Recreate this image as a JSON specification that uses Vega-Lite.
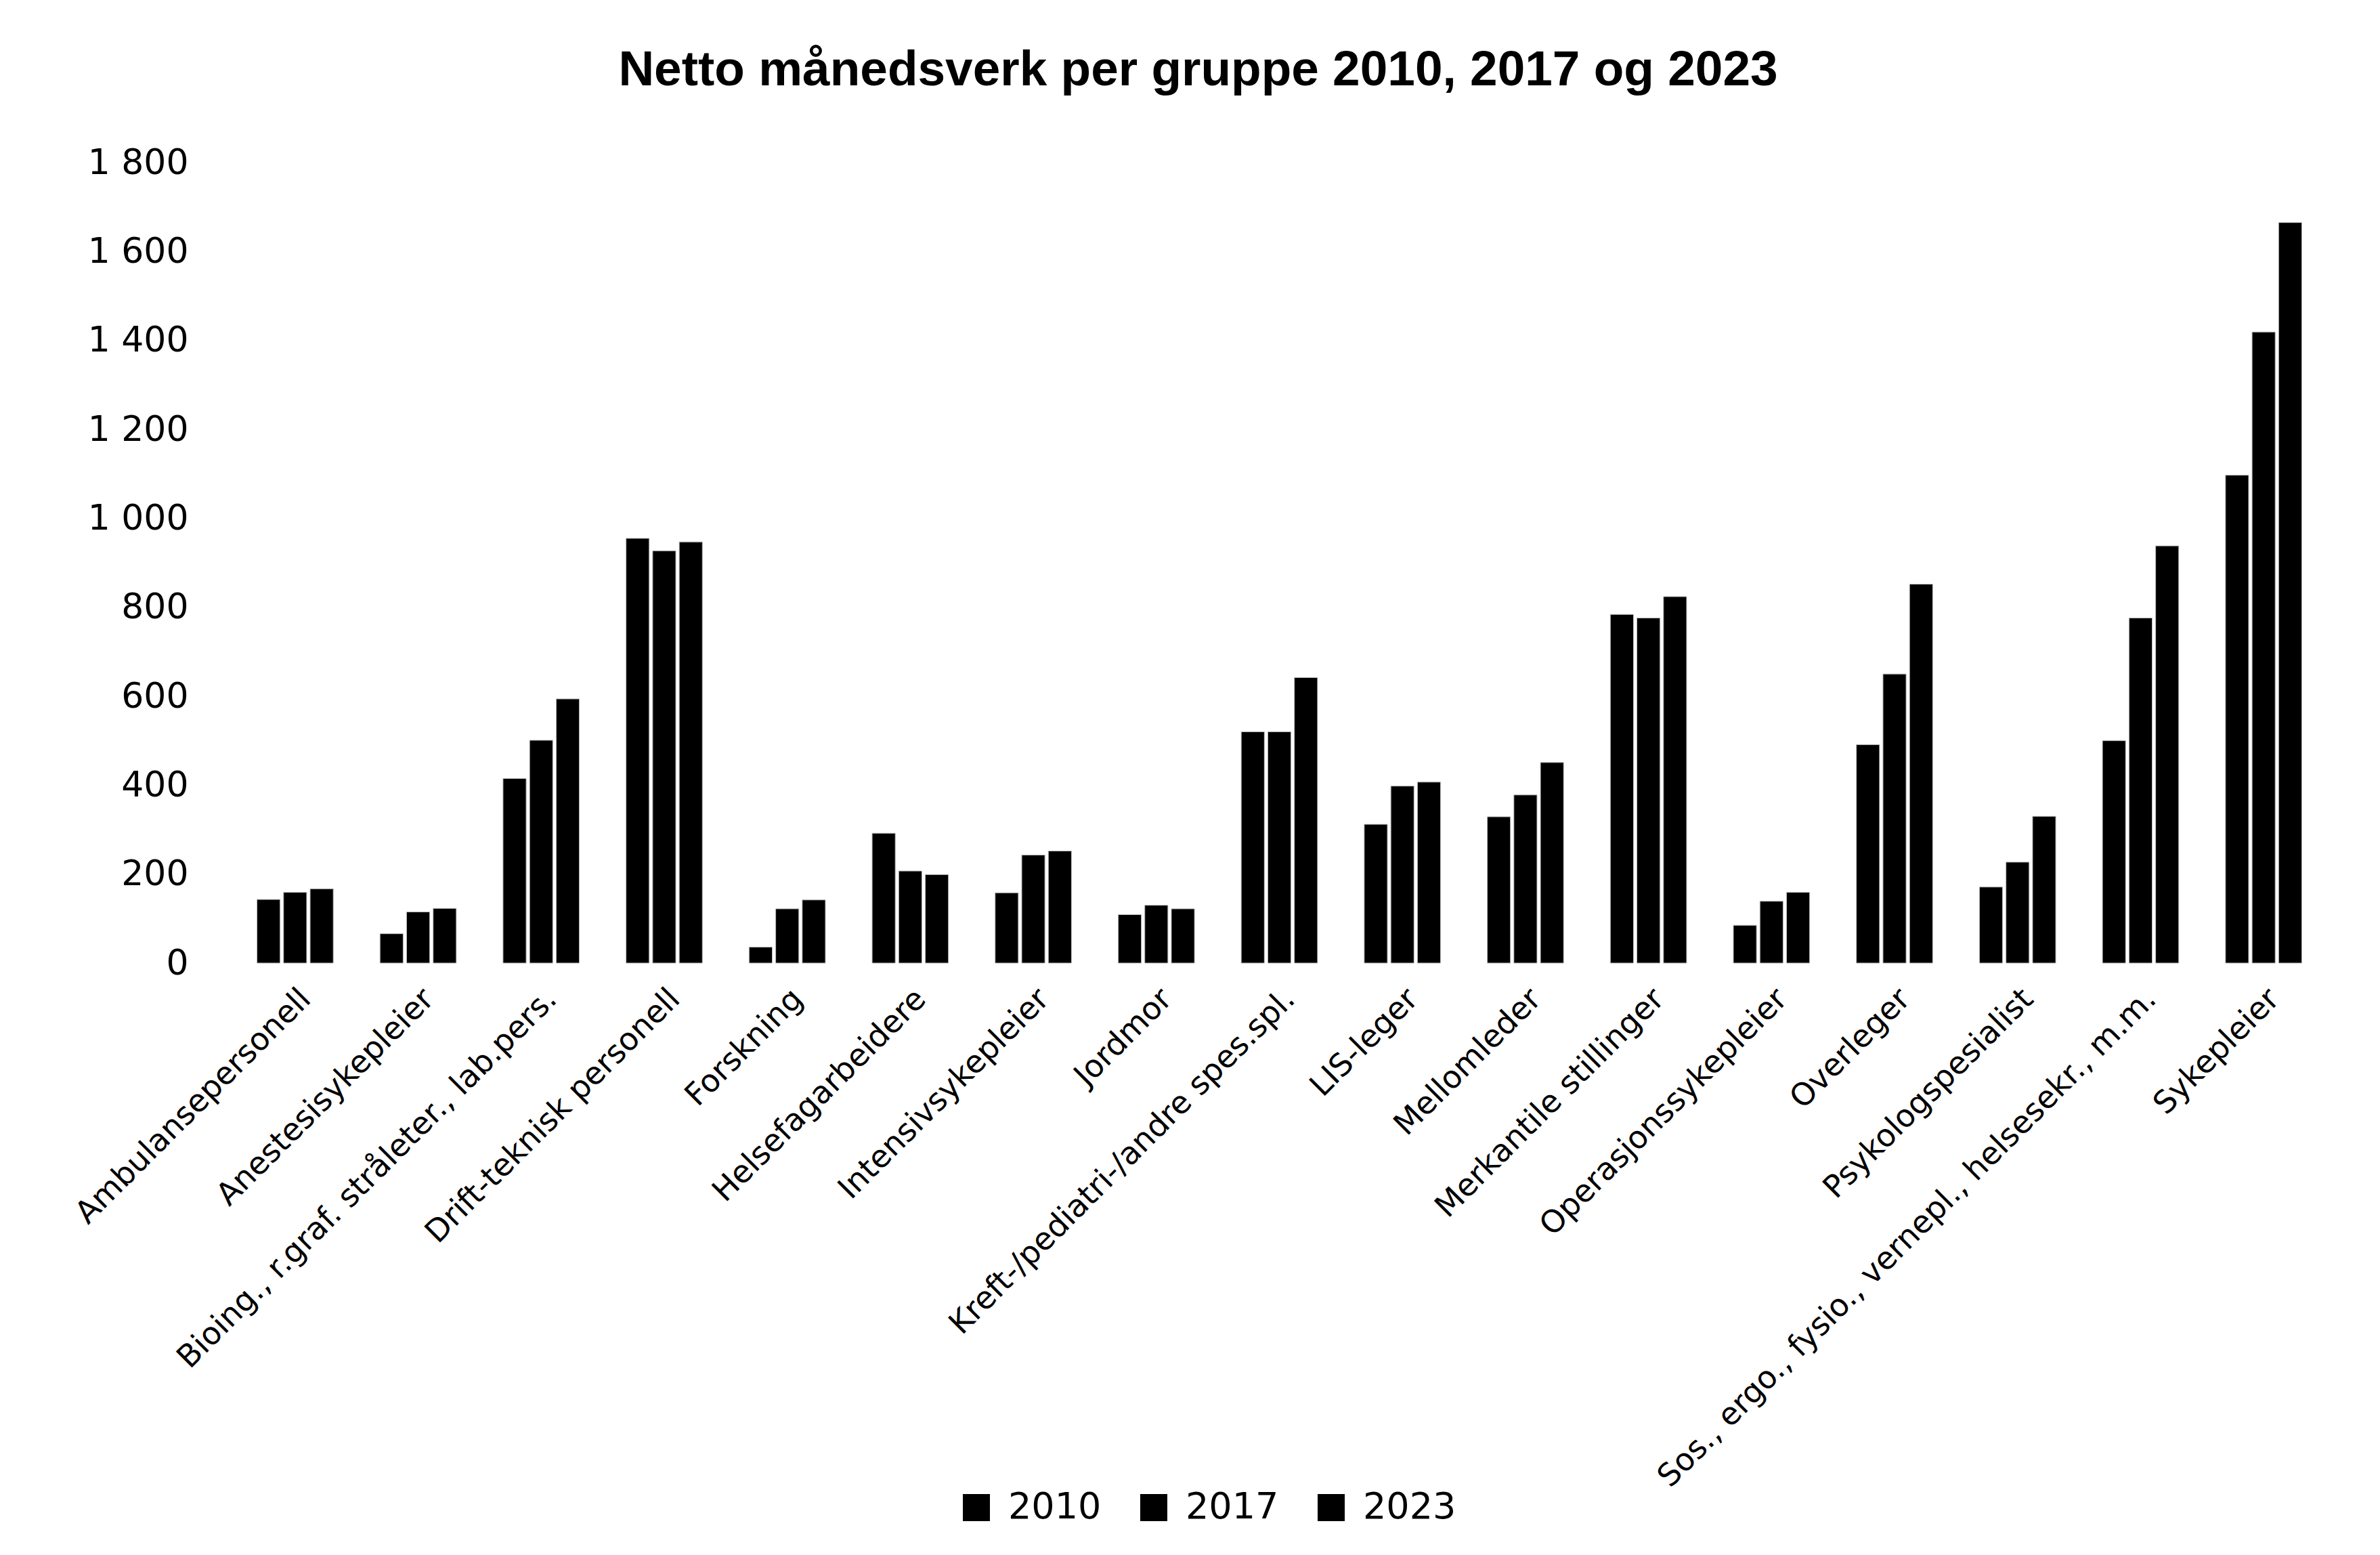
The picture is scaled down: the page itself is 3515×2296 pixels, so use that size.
{
  "$schema": "https://vega.github.io/schema/vega-lite/v6.json",
  "autosize": {"type": "none"},
  "padding": {"left": 345, "top": 240, "right": 81, "bottom": 874},
  "width": 3089,
  "height": 1182,
  "background": "white",
  "title": {
    "text": "Netto månedsverk per gruppe 2010, 2017 og 2023",
    "font": "Liberation Sans",
    "fontWeight": "bold",
    "fontSize": 73,
    "color": "black",
    "anchor": "middle",
    "dx": -120,
    "offset": 15,
    "baseline": "alphabetic"
  },
  "data": {
    "values": [
      {"gruppe": "Ambulansepersonell", "år": "2010", "verdi": 143},
      {"gruppe": "Ambulansepersonell", "år": "2017", "verdi": 159},
      {"gruppe": "Ambulansepersonell", "år": "2023", "verdi": 167},
      {"gruppe": "Anestesisykepleier", "år": "2010", "verdi": 66},
      {"gruppe": "Anestesisykepleier", "år": "2017", "verdi": 115},
      {"gruppe": "Anestesisykepleier", "år": "2023", "verdi": 123},
      {"gruppe": "Bioing., r.graf. stråleter., lab.pers.", "år": "2010", "verdi": 415},
      {"gruppe": "Bioing., r.graf. stråleter., lab.pers.", "år": "2017", "verdi": 501},
      {"gruppe": "Bioing., r.graf. stråleter., lab.pers.", "år": "2023", "verdi": 594},
      {"gruppe": "Drift-teknisk personell", "år": "2010", "verdi": 955},
      {"gruppe": "Drift-teknisk personell", "år": "2017", "verdi": 927},
      {"gruppe": "Drift-teknisk personell", "år": "2023", "verdi": 947},
      {"gruppe": "Forskning", "år": "2010", "verdi": 36},
      {"gruppe": "Forskning", "år": "2017", "verdi": 122},
      {"gruppe": "Forskning", "år": "2023", "verdi": 142},
      {"gruppe": "Helsefagarbeidere", "år": "2010", "verdi": 292},
      {"gruppe": "Helsefagarbeidere", "år": "2017", "verdi": 207},
      {"gruppe": "Helsefagarbeidere", "år": "2023", "verdi": 199},
      {"gruppe": "Intensivsykepleier", "år": "2010", "verdi": 158},
      {"gruppe": "Intensivsykepleier", "år": "2017", "verdi": 243},
      {"gruppe": "Intensivsykepleier", "år": "2023", "verdi": 252},
      {"gruppe": "Jordmor", "år": "2010", "verdi": 109},
      {"gruppe": "Jordmor", "år": "2017", "verdi": 130},
      {"gruppe": "Jordmor", "år": "2023", "verdi": 122},
      {"gruppe": "Kreft-/pediatri-/andre spes.spl.", "år": "2010", "verdi": 520},
      {"gruppe": "Kreft-/pediatri-/andre spes.spl.", "år": "2017", "verdi": 520},
      {"gruppe": "Kreft-/pediatri-/andre spes.spl.", "år": "2023", "verdi": 642},
      {"gruppe": "LIS-leger", "år": "2010", "verdi": 312},
      {"gruppe": "LIS-leger", "år": "2017", "verdi": 398},
      {"gruppe": "LIS-leger", "år": "2023", "verdi": 407},
      {"gruppe": "Mellomleder", "år": "2010", "verdi": 329},
      {"gruppe": "Mellomleder", "år": "2017", "verdi": 378},
      {"gruppe": "Mellomleder", "år": "2023", "verdi": 451},
      {"gruppe": "Merkantile stillinger", "år": "2010", "verdi": 784},
      {"gruppe": "Merkantile stillinger", "år": "2017", "verdi": 776},
      {"gruppe": "Merkantile stillinger", "år": "2023", "verdi": 824},
      {"gruppe": "Operasjonssykepleier", "år": "2010", "verdi": 85},
      {"gruppe": "Operasjonssykepleier", "år": "2017", "verdi": 139},
      {"gruppe": "Operasjonssykepleier", "år": "2023", "verdi": 159},
      {"gruppe": "Overleger", "år": "2010", "verdi": 491},
      {"gruppe": "Overleger", "år": "2017", "verdi": 650},
      {"gruppe": "Overleger", "år": "2023", "verdi": 852},
      {"gruppe": "Psykologspesialist", "år": "2010", "verdi": 171},
      {"gruppe": "Psykologspesialist", "år": "2017", "verdi": 227},
      {"gruppe": "Psykologspesialist", "år": "2023", "verdi": 330},
      {"gruppe": "Sos., ergo., fysio., vernepl., helsesekr., m.m.", "år": "2010", "verdi": 500},
      {"gruppe": "Sos., ergo., fysio., vernepl., helsesekr., m.m.", "år": "2017", "verdi": 776},
      {"gruppe": "Sos., ergo., fysio., vernepl., helsesekr., m.m.", "år": "2023", "verdi": 938},
      {"gruppe": "Sykepleier", "år": "2010", "verdi": 1097},
      {"gruppe": "Sykepleier", "år": "2017", "verdi": 1419},
      {"gruppe": "Sykepleier", "år": "2023", "verdi": 1665}
    ]
  },
  "mark": {"type": "bar", "stroke": "#bbbbbb", "strokeWidth": 1},
  "encoding": {
    "x": {
      "field": "gruppe",
      "type": "nominal",
      "sort": null,
      "scale": {"paddingInner": 0.38, "paddingOuter": 0.19},
      "axis": {
        "title": null,
        "labelAngle": -45,
        "labelFont": "DejaVu Sans",
        "labelFontSize": 46,
        "labelColor": "black",
        "labelPadding": 30,
        "labelLimit": 0,
        "labelOverlap": false,
        "domain": false,
        "ticks": false
      }
    },
    "xOffset": {
      "field": "år",
      "type": "nominal",
      "scale": {"paddingInner": 0.13, "paddingOuter": 0}
    },
    "y": {
      "field": "verdi",
      "type": "quantitative",
      "scale": {"domain": [0, 1800], "nice": false},
      "axis": {
        "title": null,
        "values": [0, 200, 400, 600, 800, 1000, 1200, 1400, 1600, 1800],
        "labelExpr": "replace(format(datum.value, ','), ',', ' ')",
        "labelFont": "DejaVu Sans",
        "labelFontSize": 52,
        "labelColor": "black",
        "labelPadding": 67,
        "domain": false,
        "ticks": false,
        "grid": false
      }
    },
    "color": {
      "field": "år",
      "type": "nominal",
      "scale": {"range": ["#000000", "#000000", "#000000"]},
      "legend": {
        "title": null,
        "orient": "none",
        "direction": "horizontal",
        "legendX": 1070,
        "legendY": 1959,
        "symbolType": "square",
        "symbolSize": 1600,
        "symbolStrokeWidth": 0,
        "symbolFillColor": "black",
        "labelFont": "DejaVu Sans",
        "labelFontSize": 54,
        "labelColor": "black",
        "labelOffset": 20,
        "columnPadding": 50
      }
    }
  },
  "config": {
    "view": {"stroke": null}
  }
}
